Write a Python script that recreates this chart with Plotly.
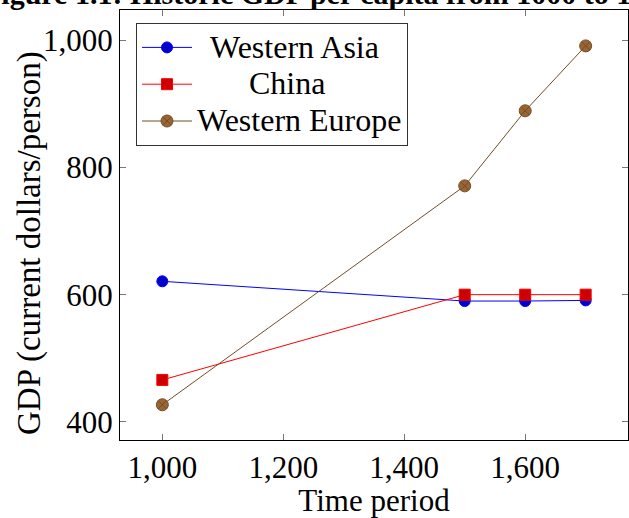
import plotly.graph_objects as go

years = [1000, 1500, 1600, 1700]
western_asia = [621, 590, 590, 591]
china = [466, 600, 600, 600]
western_europe = [427, 771, 889, 991]

series_names = ["Western Asia", "China", "Western Europe"]
x_ticks = [1000, 1200, 1400, 1600]
y_ticks = [400, 600, 800, 1000]

FONT = "Liberation Serif"
FS = 31
W, H = 629, 518
ml, mr, mt, mb = 120, 1, 10, 78
PW, PH = W - ml - mr, H - mt - mb


def px_x(p):
    return (p - ml) / PW


def px_y(p):
    return 1 - (p - mt) / PH


def leg(name, pad):
    return "\u2007" * pad + '<span style="font-size:32px">' + name + "</span>"


fig = go.Figure()
fig.add_trace(go.Scatter(
    x=years, y=western_asia, mode="lines+markers",
    name=leg(series_names[0], 1),
    line=dict(color="#0000FF", width=1),
    marker=dict(symbol="circle", size=11, color="#0000CC", line=dict(color="#0000FF", width=1)),
))
fig.add_trace(go.Scatter(
    x=years, y=china, mode="lines+markers",
    name=leg(series_names[1], 4),
    line=dict(color="#FF0000", width=1),
    marker=dict(symbol="square", size=11, color="#CC0000", line=dict(color="#FF0000", width=1)),
))
fig.add_trace(go.Scatter(
    x=years, y=western_europe, mode="lines+markers",
    name=leg(series_names[2], 0),
    line=dict(color="#734D26", width=1),
    marker=dict(symbol="circle-x", size=12, color="#996633", line=dict(color="#734D26", width=1)),
))

axis_common = dict(
    showline=True, linecolor="black", linewidth=1, mirror="ticks",
    ticks="inside", ticklen=6, tickcolor="#777777", tickwidth=1,
    showgrid=False, zeroline=False, automargin=False,
    tickfont=dict(family=FONT, size=FS, color="black"),
)

fig.update_layout(
    width=W, height=H,
    margin=dict(l=ml, r=mr, t=mt, b=mb),
    paper_bgcolor="white", plot_bgcolor="white",
    font=dict(family=FONT, size=FS, color="black"),
    xaxis=dict(range=[930, 1770], tickvals=x_ticks, tickformat=",d",
               title=dict(text="Time period", font=dict(family=FONT, size=FS), standoff=5),
               **axis_common),
    yaxis=dict(range=[371.6, 1047.4], tickvals=y_ticks, tickformat=",d",
               **axis_common),
    legend=dict(x=px_x(136), y=px_y(23), xanchor="left", yanchor="top",
                bordercolor="#333333", borderwidth=1, bgcolor="white",
                font=dict(family=FONT, size=26), itemwidth=50,
                tracegroupgap=0),
    showlegend=True,
)

# y-axis title
fig.add_annotation(
    text="GDP (current dollars/person)",
    xref="paper", yref="paper", x=px_x(29), y=px_y(243),
    xanchor="center", yanchor="middle", textangle=-90, showarrow=False,
    font=dict(family=FONT, size=33, color="black"),
)

# figure caption, cut off at the top as in the source
fig.add_annotation(
    text="<b>Figure 1.1: Historic GDP per capita from 1000 to 1700</b>",
    xref="paper", yref="paper", x=px_x(-19), y=px_y(12),
    xanchor="left", yanchor="bottom", showarrow=False,
    font=dict(family=FONT, size=30, color="black"),
)

fig.write_html("out.html", config={"displayModeBar": False},
               post_script="document.body.style.margin='0px';")
